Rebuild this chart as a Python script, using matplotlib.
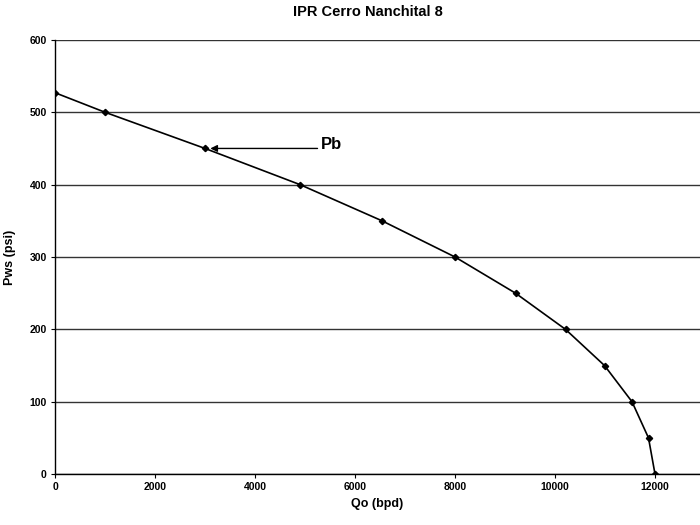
import matplotlib
matplotlib.use('Agg')
import matplotlib.pyplot as plt

plt.rcParams['font.family'] = ['Liberation Sans', 'DejaVu Sans']

# 读图得到的 IPR 数据
qo = [0, 1000, 3000, 4900, 6540, 8000, 9210, 10210, 10990, 11540, 11870, 12000]
pws = [527, 500, 450, 400, 350, 300, 250, 200, 150, 100, 50, 0]
pb_q, pb_p = 3050, 450
x_ticks = [0, 2000, 4000, 6000, 8000, 10000, 12000]
y_ticks = [0, 100, 200, 300, 400, 500, 600]

fig = plt.figure(figsize=(7, 5.25), dpi=100)
ax = fig.add_axes([0.0786, 0.097, 0.9214, 0.827])

ax.plot(qo, pws, color='black', linewidth=1.2, marker='D', markersize=3.2,
        markerfacecolor='black', markeredgecolor='black', zorder=3)

# Pb 标注，水平箭头
ax.annotate('', xy=(pb_q, pb_p), xytext=(5250, pb_p),
            arrowprops=dict(arrowstyle='-|>', color='black', lw=1.0,
                            mutation_scale=10, shrinkA=0, shrinkB=2))
ax.text(5320, pb_p + 5, 'Pb', fontsize=12, fontweight='bold', va='center', ha='left')

ax.set_xlim(0, 12900)
ax.set_ylim(0, 600)
ax.set_xticks(x_ticks)
ax.set_yticks(y_ticks)
ax.tick_params(axis='both', labelsize=7.5, length=3, width=0.8, direction='out', pad=3)
for lab in ax.get_xticklabels() + ax.get_yticklabels():
    lab.set_fontweight('bold')

ax.yaxis.grid(True, color='#333333', linewidth=1.0)
ax.set_axisbelow(True)
for s in ['top', 'right']:
    ax.spines[s].set_visible(False)
ax.spines['left'].set_linewidth(1.0)
ax.spines['bottom'].set_linewidth(1.0)

ax.set_xlabel('Qo (bpd)', fontsize=9, fontweight='bold', labelpad=4)
ax.set_ylabel('Pws (psi)', fontsize=9, fontweight='bold', labelpad=10)
fig.text(0.526, 0.977, 'IPR Cerro Nanchital 8', fontsize=10.5, fontweight='bold',
         ha='center', va='center')

fig.savefig('out.png', dpi=100)
plt.close(fig)
